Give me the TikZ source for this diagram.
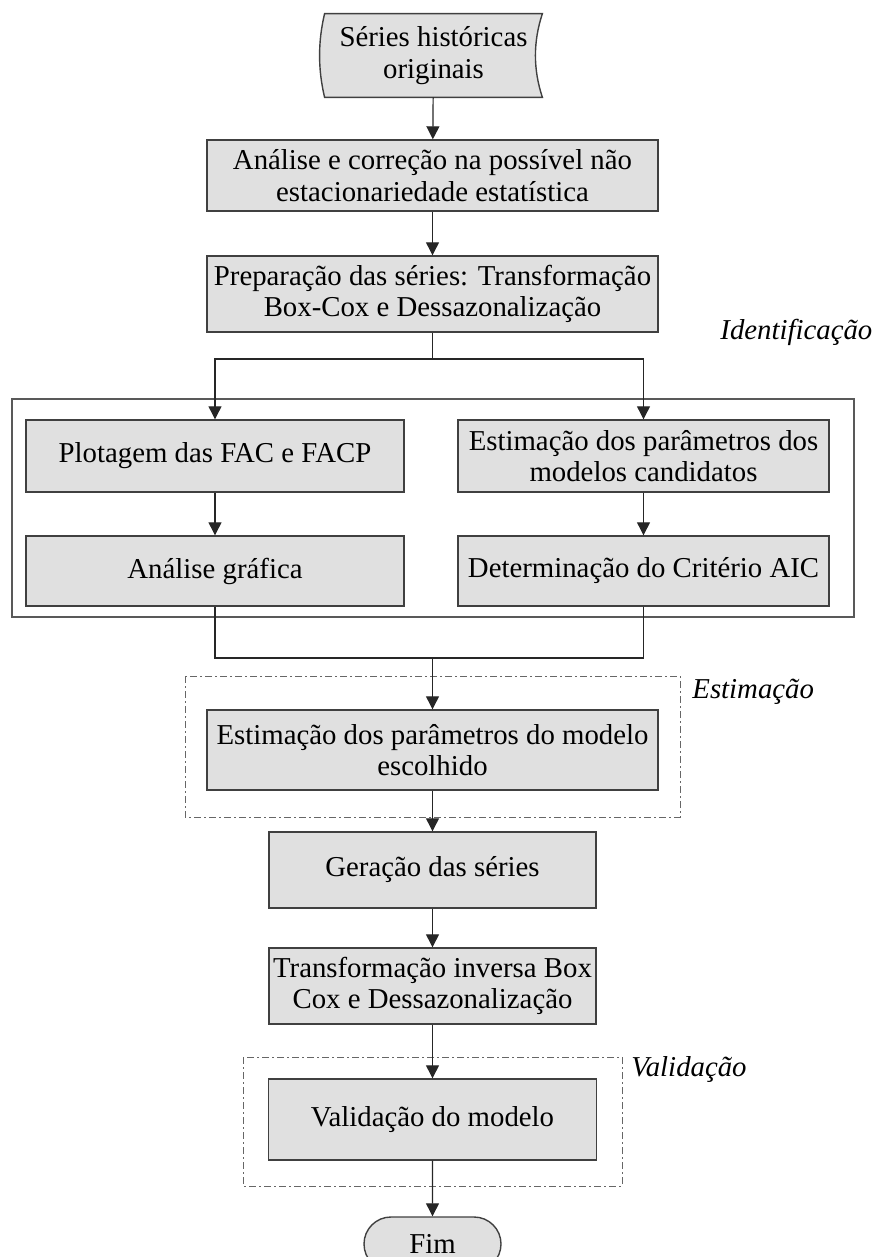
\documentclass[tikz,border=0pt]{standalone}
\usepackage{fontspec}
\setmainfont{Liberation Serif}
\usetikzlibrary{arrows.meta,shapes.misc,backgrounds}

\begin{document}
\begin{tikzpicture}[x=0.5pt, y=-0.5pt,
    font=\fontsize{14.4}{15.8}\selectfont,
    caixa/.style={draw=black!75, fill=black!12, line width=0.7pt, align=center, inner sep=0pt, minimum width=#1},
    caixa/.default=225.5pt,
    seta/.style={draw=black!85, line width=0.6pt, -{Triangle[length=6.5pt, width=6.5pt]}},
    linha/.style={draw=black!85, line width=0.6pt},
    grupo/.style={draw=black!65, line width=0.6pt},
    tracejado/.style={draw=black!60, line width=0.5pt, dash pattern=on 3.5pt off 1.5pt on 1pt off 1.5pt},
    rotulo/.style={font=\fontsize{14.4}{15.8}\selectfont\itshape, anchor=base west, inner sep=0pt}]
    \useasboundingbox (0,0) rectangle (873,1257);

    \node[align=center, inner sep=0pt, minimum width=108.5pt, minimum height=41.5pt] (serie) at (433.5, 55.5) {Séries históricas\\originais};
    \begin{scope}[on background layer]
        \filldraw[draw=black!75, fill=black!12, line width=0.7pt] (serie.north west) -- (serie.north east)
            .. controls +(-9.3, 28) and +(-9.3, -28) .. (serie.south east) -- (serie.south west)
            .. controls +(-6.7, -28) and +(-6.7, 28) .. (serie.north west) -- cycle;
    \end{scope}

    \node[caixa, minimum height=35.5pt] (analise) at (432.5, 175.5) {Análise e correção na possível não\\estacionariedade estatística};
    \node[caixa, minimum height=38pt] (prepara) at (432.5, 294) {Preparação das séries: Transformação\\Box-Cox e Dessazonalização};

    \draw[grupo] (12, 399) rectangle (854, 617);
    \node[rotulo] (ident) at (720, 339) {Identificação};
    \node[caixa=189pt, minimum height=36pt] (plot) at (215, 456) {Plotagem das FAC e FACP};
    \node[caixa=189pt, minimum height=35pt] (grafica) at (215, 571) {Análise gráfica};
    \node[caixa=185.5pt, minimum height=36pt] (estpar) at (643.5, 456) {Estimação dos parâmetros dos\\modelos candidatos};
    \node[caixa=185.5pt, minimum height=35pt] (aic) at (643.5, 571) {Determinação do Critério AIC};

    \draw[tracejado] (185, 676) rectangle (680, 817);
    \node[rotulo] (estim) at (692, 698) {Estimação};
    \node[caixa, minimum height=40pt] (estmod) at (432.5, 750) {Estimação dos parâmetros do modelo\\escolhido};

    \node[caixa=163.5pt, minimum height=38pt] (geracao) at (432.5, 870) {Geração das séries};
    \node[caixa=163.5pt, minimum height=38pt] (inversa) at (432.5, 986) {Transformação inversa Box\\Cox e Dessazonalização};

    \draw[tracejado] (243, 1057) rectangle (622, 1186);
    \node[rotulo] (valid) at (631, 1076) {Validação};
    \node[caixa=164pt, minimum height=40.5pt] (valmod) at (432.5, 1119.5) {Validação do modelo};

    \node[caixa=68.5pt, rounded rectangle, minimum height=27pt] (fim) at (432.5, 1244) {Fim};

    \coordinate (divide) at (432.5, 359);
    \coordinate (junta) at (432.5, 658);
    \draw[seta] (serie) -- (analise);
    \draw[seta] (analise) -- (prepara);
    \draw[linha] (prepara) -- (divide);
    \draw[seta] (divide) -| (plot.north);
    \draw[seta] (divide) -| (estpar.north);
    \draw[seta] (plot) -- (grafica);
    \draw[seta] (estpar) -- (aic);
    \draw[linha] (grafica.south) |- (junta);
    \draw[linha] (aic.south) |- (junta);
    \draw[seta] (junta) -- (estmod);
    \draw[seta] (estmod) -- (geracao);
    \draw[seta] (geracao) -- (inversa);
    \draw[seta] (inversa) -- (valmod);
    \draw[seta] (valmod) -- (fim);

\end{tikzpicture}
\end{document}
